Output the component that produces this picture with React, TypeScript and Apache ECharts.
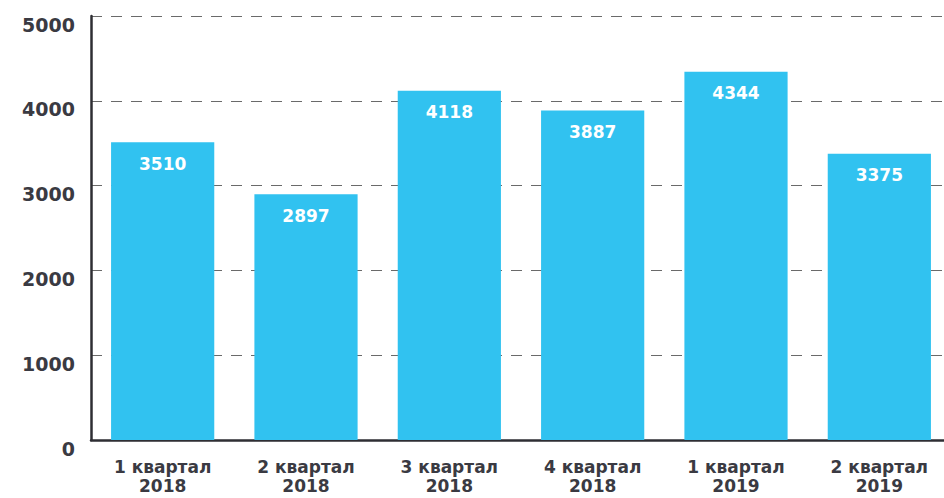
import React, { useEffect, useRef } from "react";
import * as echarts from "echarts";

const categories = [
  "1 квартал\n2018",
  "2 квартал\n2018",
  "3 квартал\n2018",
  "4 квартал\n2018",
  "1 квартал\n2019",
  "2 квартал\n2019",
];
const values = [3510, 2897, 4118, 3887, 4344, 3375];
const yTicks = [0, 1000, 2000, 3000, 4000, 5000];

export default function App() {
  const ref = useRef<HTMLDivElement>(null);
  useEffect(() => {
    if (!ref.current) return;
    const chart = echarts.init(ref.current, undefined, { renderer: "svg" });
    const font = "'DejaVu Sans', sans-serif";
    chart.setOption({
      animation: false,
      grid: {
        left: 91,
        right: -7,
        top: 16,
        bottom: 58,
        containLabel: false,
        outerBoundsMode: "none",
      },
      xAxis: {
        type: "category",
        data: categories,
        axisLine: { lineStyle: { color: "#2e2e33", width: 2.5 } },
        axisTick: { show: false },
        axisLabel: {
          color: "#3a3a42",
          fontFamily: font,
          fontWeight: "bold",
          fontSize: 17,
          lineHeight: 19,
          margin: 17,
        },
      },
      yAxis: {
        type: "value",
        min: yTicks[0],
        max: yTicks[yTicks.length - 1],
        interval: 1000,
        axisLine: { show: true, lineStyle: { color: "#2e2e33", width: 2.5 } },
        axisTick: { show: false },
        axisLabel: {
          color: "#3a3a42",
          fontFamily: font,
          fontWeight: "bold",
          fontSize: 19,
          lineHeight: 17,
          margin: 16,
          verticalAlign: "top",
          formatter: (v: number) => String(v),
        },
        splitLine: {
          show: true,
          lineStyle: { color: "#6a6a6a", type: [11, 9], width: 1.2 },
        },
      },
      series: [
        {
          type: "bar",
          data: values,
          barCategoryGap: "28%",
          itemStyle: { color: "#31c2f0" },
          label: {
            show: true,
            position: "insideTop",
            distance: 13,
            color: "#ffffff",
            fontFamily: font,
            fontWeight: "bold",
            fontSize: 17,
          },
        },
      ],
    });
    return () => chart.dispose();
  }, []);
  return <div ref={ref} style={{ width: 944, height: 498, position: "absolute", left: 0, top: 0 }} />;
}
